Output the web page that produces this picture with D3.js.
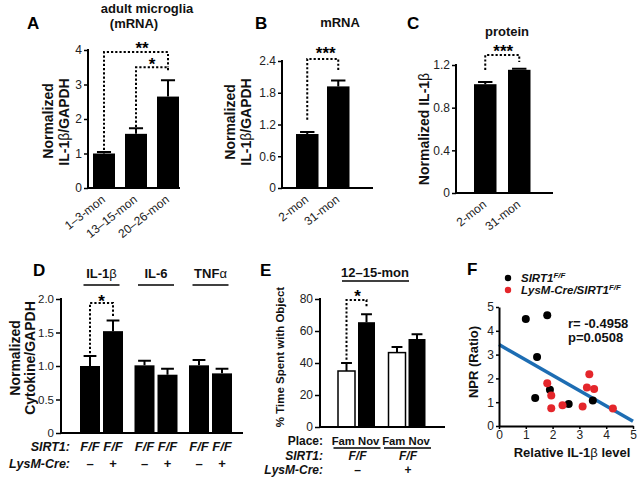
<!DOCTYPE html>
<html><head><meta charset="utf-8">
<script src="https://cdn.jsdelivr.net/npm/d3@7"></script>
<style>body{margin:0;background:#fff} svg{display:block;font-family:"Liberation Sans",Arial,Helvetica,sans-serif}</style>
</head><body><svg id="c" width="640" height="480"></svg>
<script>
// ---------- data ----------
const aCategories = ["1–3-mon", "13–15-mon", "20–26-mon"];
const aValues = [1.0, 1.57, 2.65];
const aErrors = [0.04, 0.16, 0.47];
const aTicks = [0, 1, 2, 3, 4];

const bCategories = ["2-mon", "31-mon"];
const bValues = [1.02, 1.92];
const bErrors = [0.04, 0.11];
const bTicks = [0, 0.6, 1.2, 1.8, 2.4];

const cCategories = ["2-mon", "31-mon"];
const cValues = [1.02, 1.155];
const cErrors = [0.02, 0.01];
const cTicks = [0, 0.4, 0.8, 1.2];

const dGroups = ["IL-1β", "IL-6", "TNFα"];
const dGenotypes = ["–", "+"];
const dValues = [[1.0, 1.52], [1.01, 0.87], [1.01, 0.89]];
const dErrors = [[0.15, 0.16], [0.07, 0.09], [0.08, 0.07]];
const dTicks = [0, 0.5, 1.0, 1.5, 2.0];

const eGroups = ["–", "+"];
const ePlaces = ["Fam", "Nov"];
const eValues = [[35, 65.5], [46.5, 55]];
const eErrors = [[5, 5], [3.5, 3]];
const eTicks = [0, 20, 40, 60, 80];

const fControl = [[1.0, 4.5], [1.8, 4.65], [1.42, 2.9], [1.35, 1.18], [1.9, 1.52], [2.6, 0.92], [3.5, 1.07]];
const fKnockout = [[1.8, 1.8], [1.95, 1.28], [1.95, 0.75], [2.37, 0.87], [3.12, 0.82], [3.37, 2.17], [3.28, 1.62], [3.55, 1.55], [4.25, 0.74]];
const fFit = [[0, 3.42], [5, 0.2]];
const fTicks = [0, 1, 2, 3, 4, 5];
const fStats = ["r= -0.4958", "p=0.0508"];

// ---------- helpers ----------
const svg = d3.select("#c");
const RED = "#e4262b", BLUE = "#1d6db3";
const fmt1 = v => v === 0 ? "0" : d3.format(".1f")(v);
const fmt0 = d3.format("d");

function rich(sel, str) {
  str.split(/([βα])/).forEach(part => {
    if (!part) return;
    const t = sel.append("tspan").text(part);
    if (part === "β" || part === "α") t.attr("font-weight", "normal");
  });
  return sel;
}
function label(g, x, y, str, o = {}) {
  const t = g.append("text").attr("x", x).attr("y", y)
    .attr("font-size", o.size || 13).attr("font-weight", o.weight || "bold")
    .attr("font-style", o.style || "normal")
    .attr("text-anchor", o.anchor || "middle").attr("fill", "#111");
  rich(t, str);
  return t;
}
function vlabel(g, x, y, str, size) {
  const t = g.append("text").attr("transform", `translate(${x},${y}) rotate(-90)`)
    .attr("font-size", size || 14).attr("font-weight", "bold")
    .attr("text-anchor", "middle").attr("fill", "#111");
  rich(t, str);
}
function panelLetter(x, y, s) {
  svg.append("text").attr("x", x).attr("y", y).attr("font-size", 17)
    .attr("font-weight", "bold").attr("fill", "#000").text(s);
}
function yAxis(y, ticks, x, fmt, size = 4, fs = 12) {
  const ax = svg.append("g").attr("transform", `translate(${x},0)`)
    .call(d3.axisLeft(y).tickValues(ticks).tickSize(size).tickSizeOuter(0).tickPadding(2).tickFormat(fmt));
  ax.select(".domain").attr("stroke", "#000").attr("stroke-width", 2)
    .attr("d", `M0,${y(0) + 1}V${y(ticks[ticks.length - 1]) - 1}`);
  ax.selectAll(".tick line").attr("stroke", "#000").attr("stroke-width", 1.5);
  ax.selectAll(".tick text").attr("font-size", fs).attr("fill", "#222")
    .attr("font-family", '"Liberation Sans",Arial,sans-serif');
  return ax;
}
function xLine(y, x0, x1) {
  svg.append("line").attr("x1", x0 - 1).attr("x2", x1).attr("y1", y(0)).attr("y2", y(0))
    .attr("stroke", "#000").attr("stroke-width", 2);
}
function bars(g, items, y) {
  g.selectAll(null).data(items).enter().append("rect")
    .attr("x", d => d.x).attr("width", d => d.w)
    .attr("y", d => y(d.v)).attr("height", d => y(0) - y(d.v))
    .attr("fill", d => d.fill || "#000")
    .attr("stroke", "#000").attr("stroke-width", d => d.fill === "#fff" ? 1.5 : 0);
  g.selectAll(null).data(items).enter().append("path")
    .attr("d", d => {
      const cx = d.x + d.w / 2, cw = d.w * 0.32;
      return `M${cx},${y(d.v)}V${y(d.v + d.e)}M${cx - cw},${y(d.v + d.e)}H${cx + cw}`;
    })
    .attr("stroke", "#000").attr("stroke-width", 2).attr("fill", "none");
}
function bracket(g, x1, x2, y, top, lb, rb, stars, sdx = 0, sdy = 7) {
  g.append("path")
    .attr("d", `M${x1},${y(lb)}V${y(top)}H${x2}V${y(rb)}`)
    .attr("fill", "none").attr("stroke", "#000").attr("stroke-width", 2)
    .attr("stroke-dasharray", "2.2,2");
  g.append("text").attr("x", (x1 + x2) / 2 + sdx).attr("y", y(top) - sdy + 9)
    .attr("text-anchor", "middle").attr("font-size", 17).attr("font-weight", "bold")
    .attr("fill", "#000").text(stars);
}
function bandScale(cats, first, step, bw) {
  const pi = (step - bw) / step, po = pi / 2;
  const start = first - po * step;
  return d3.scaleBand().domain(cats).range([start, start + step * cats.length])
    .paddingInner(pi).paddingOuter(po);
}
function rotatedLabels(cats, x, y0) {
  cats.forEach(c => {
    svg.append("text")
      .attr("transform", `translate(${x(c) + x.bandwidth() / 2 + 2},${y0 + 13}) rotate(-38)`)
      .attr("text-anchor", "end").attr("font-size", 12).attr("fill", "#222").text(c);
  });
}

// ---------- Panel A ----------
{
  const y = d3.scaleLinear().domain([0, 4]).range([188, 50]);
  const x = bandScale(aCategories, 93, 32, 22);
  const g = svg.append("g");
  bars(g, aCategories.map((c, i) => ({ x: x(c), w: x.bandwidth(), v: aValues[i], e: aErrors[i] })), y);
  yAxis(y, aTicks, 88, fmt0);
  xLine(y, 88, 180);
  const cx = c => x(c) + x.bandwidth() / 2;
  bracket(g, cx(aCategories[0]), cx(aCategories[2]), y, 3.94, 1.1, 3.5, "**", 6, 7);
  bracket(g, cx(aCategories[1]), cx(aCategories[2]), y, 3.5, 1.77, 3.36, "*", 0, 6);
  rotatedLabels(aCategories, x, 188);
  label(svg, 147, 13, "adult microglia", { size: 13 });
  label(svg, 134, 28, "(mRNA)", { size: 13 });
  vlabel(svg, 53, 121, "Normalized");
  vlabel(svg, 69, 122, "IL-1β/GAPDH");
  panelLetter(27, 29, "A");
}

// ---------- Panel B ----------
{
  const y = d3.scaleLinear().domain([0, 2.4]).range([188, 61]);
  const x = bandScale(bCategories, 296, 31, 22.5);
  const g = svg.append("g");
  bars(g, bCategories.map((c, i) => ({ x: x(c), w: x.bandwidth(), v: bValues[i], e: bErrors[i] })), y);
  yAxis(y, bTicks, 282, fmt1);
  xLine(y, 282, 373);
  const cx = c => x(c) + x.bandwidth() / 2;
  bracket(g, cx(bCategories[0]), cx(bCategories[1]), y, 2.44, 1.29, 2.23, "***", 3, 9);
  rotatedLabels(bCategories, x, 188);
  label(svg, 340, 27, "mRNA", { size: 13 });
  vlabel(svg, 235, 122, "Normalized");
  vlabel(svg, 251, 122, "IL-1β/GAPDH");
  panelLetter(255, 29, "B");
}

// ---------- Panel C ----------
{
  const y = d3.scaleLinear().domain([0, 1.2]).range([193, 65]);
  const x = bandScale(cCategories, 474, 34, 22.5);
  const g = svg.append("g");
  bars(g, cCategories.map((c, i) => ({ x: x(c), w: x.bandwidth(), v: cValues[i], e: cErrors[i] })), y);
  yAxis(y, cTicks, 456, fmt1);
  xLine(y, 456, 553);
  const cx = c => x(c) + x.bandwidth() / 2;
  bracket(g, cx(cCategories[0]), cx(cCategories[1]), y, 1.293, 1.153, 1.228, "***", 1, 7);
  rotatedLabels(cCategories, x, 193);
  label(svg, 507, 36, "protein", { size: 13 });
  vlabel(svg, 429, 129, "Normalized IL-1β");
  panelLetter(407, 29, "C");
}

// ---------- Panel D ----------
{
  const y = d3.scaleLinear().domain([0, 2]).range([433, 299]);
  const xo = bandScale(dGroups, 80, 54.5, 43);
  const xi = d3.scaleBand().domain(dGenotypes).range([0, xo.bandwidth()]).paddingInner(3 / 23);
  const g = svg.append("g");
  const items = [];
  dGroups.forEach((gr, i) => dGenotypes.forEach((gt, j) =>
    items.push({ x: xo(gr) + xi(gt), w: xi.bandwidth(), v: dValues[i][j], e: dErrors[i][j], gt })));
  bars(g, items, y);
  yAxis(y, dTicks, 61, fmt1, 5, 11.5);
  xLine(y, 61, 243);
  const cx0 = items[0].x + items[0].w / 2, cx1 = items[1].x + items[1].w / 2;
  bracket(g, cx0, cx1, y, 1.94, 1.19, 1.73, "*", 0, 5);
  dGroups.forEach(gr => {
    const c = xo(gr) + xo.bandwidth() / 2;
    label(svg, c, 278, gr, { size: 13 });
    svg.append("line").attr("x1", c - 18).attr("x2", c + 18).attr("y1", 285).attr("y2", 285)
      .attr("stroke", "#000").attr("stroke-width", 1.5);
  });
  items.forEach(d => {
    const c = d.x + d.w / 2;
    label(svg, c, 451, "F/F", { size: 13, style: "italic" });
    label(svg, c, 468, d.gt, { size: 13 });
  });
  label(svg, 70, 451, "SIRT1:", { size: 12.5, style: "italic", anchor: "end" });
  label(svg, 70, 468, "LysM-Cre:", { size: 12.5, style: "italic", anchor: "end" });
  vlabel(svg, 20, 358, "Normalized");
  vlabel(svg, 35, 358, "Cytokine/GAPDH");
  panelLetter(33, 276, "D");
}

// ---------- Panel E ----------
{
  const y = d3.scaleLinear().domain([0, 80]).range([427, 299]);
  const xo = bandScale(eGroups, 338, 50.5, 37);
  const xi = d3.scaleBand().domain(ePlaces).range([0, xo.bandwidth()]).paddingInner(0.15);
  const g = svg.append("g");
  const items = [];
  eGroups.forEach((gr, i) => ePlaces.forEach((p, j) =>
    items.push({ x: xo(gr) + xi(p), w: xi.bandwidth(), v: eValues[i][j], e: eErrors[i][j], fill: j === 0 ? "#fff" : "#000" })));
  bars(g, items, y);
  yAxis(y, eTicks, 320, fmt0, 5);
  xLine(y, 320, 445);
  const cx0 = items[0].x + items[0].w / 2, cx1 = items[1].x + items[1].w / 2;
  bracket(g, cx0, cx1, y, 79.4, 42, 74.4, "*", 1, 6.5);
  label(svg, 375, 277, "12–15-mon", { size: 13 });
  svg.append("line").attr("x1", 342).attr("x2", 409).attr("y1", 281).attr("y2", 281)
    .attr("stroke", "#000").attr("stroke-width", 1.5);
  eGroups.forEach(gr => {
    const c = xo(gr) + xo.bandwidth() / 2;
    label(svg, c - 1, 445, ePlaces.join(" "), { size: 11.3 });
    svg.append("line").attr("x1", c - 23).attr("x2", c + 24).attr("y1", 448).attr("y2", 448)
      .attr("stroke", "#000").attr("stroke-width", 1.5);
    label(svg, c + 1, 460, "F/F", { size: 12, style: "italic" });
    label(svg, c + 1, 474, gr, { size: 12 });
  });
  label(svg, 323, 445, "Place:", { size: 12, anchor: "end" });
  label(svg, 323, 460, "SIRT1:", { size: 12, style: "italic", anchor: "end" });
  label(svg, 323, 474, "LysM-Cre:", { size: 12, style: "italic", anchor: "end" });
  vlabel(svg, 284, 357, "% Time Spent with Object", 11.5);
  panelLetter(260, 276, "E");
}

// ---------- Panel F ----------
{
  const x = d3.scaleLinear().domain([0, 5]).range([499, 633]);
  const y = d3.scaleLinear().domain([0, 5]).range([426, 307]);
  const g = svg.append("g");
  const ya = svg.append("g").attr("transform", "translate(499,0)")
    .call(d3.axisLeft(y).tickValues(fTicks).tickSize(3).tickSizeOuter(0).tickPadding(2).tickFormat(fmt0));
  const xa = svg.append("g").attr("transform", "translate(0,426)")
    .call(d3.axisBottom(x).tickValues(fTicks).tickSize(3).tickSizeOuter(0).tickPadding(1).tickFormat(fmt0));
  [ya, xa].forEach(a => {
    a.select(".domain").attr("stroke", "#000").attr("stroke-width", 2);
    a.selectAll(".tick line").attr("stroke", "#000").attr("stroke-width", 1.5);
    a.selectAll(".tick text").attr("font-size", 12).attr("fill", "#222")
      .attr("font-family", '"Liberation Sans",Arial,sans-serif');
  });
  g.append("path").attr("d", d3.line().x(d => x(d[0])).y(d => y(d[1]))(fFit))
    .attr("stroke", BLUE).attr("stroke-width", 3.5).attr("fill", "none");
  g.selectAll(null).data(fControl).enter().append("circle")
    .attr("cx", d => x(d[0])).attr("cy", d => y(d[1])).attr("r", 4).attr("fill", "#000");
  g.selectAll(null).data(fKnockout).enter().append("circle")
    .attr("cx", d => x(d[0])).attr("cy", d => y(d[1])).attr("r", 4).attr("fill", RED);
  label(svg, 568, 328, fStats[0], { size: 13, anchor: "start" });
  label(svg, 568, 342, fStats[1], { size: 13, anchor: "start" });
  svg.append("circle").attr("cx", 508).attr("cy", 278).attr("r", 3.2).attr("fill", "#000");
  svg.append("circle").attr("cx", 508).attr("cy", 290).attr("r", 3.2).attr("fill", RED);
  const l1 = label(svg, 521, 282, "SIRT1", { size: 11.5, style: "italic", anchor: "start" });
  l1.append("tspan").attr("dy", -4).attr("font-size", 8).text("F/F");
  const l2 = label(svg, 521, 294, "LysM-Cre/SIRT1", { size: 11.5, style: "italic", anchor: "start" });
  l2.append("tspan").attr("dy", -4).attr("font-size", 8).text("F/F");
  vlabel(svg, 478, 362, "NPR (Ratio)", 13);
  label(svg, 572, 457, "Relative IL-1β level", { size: 13 });
  panelLetter(467, 275, "F");
}
</script></body></html>
